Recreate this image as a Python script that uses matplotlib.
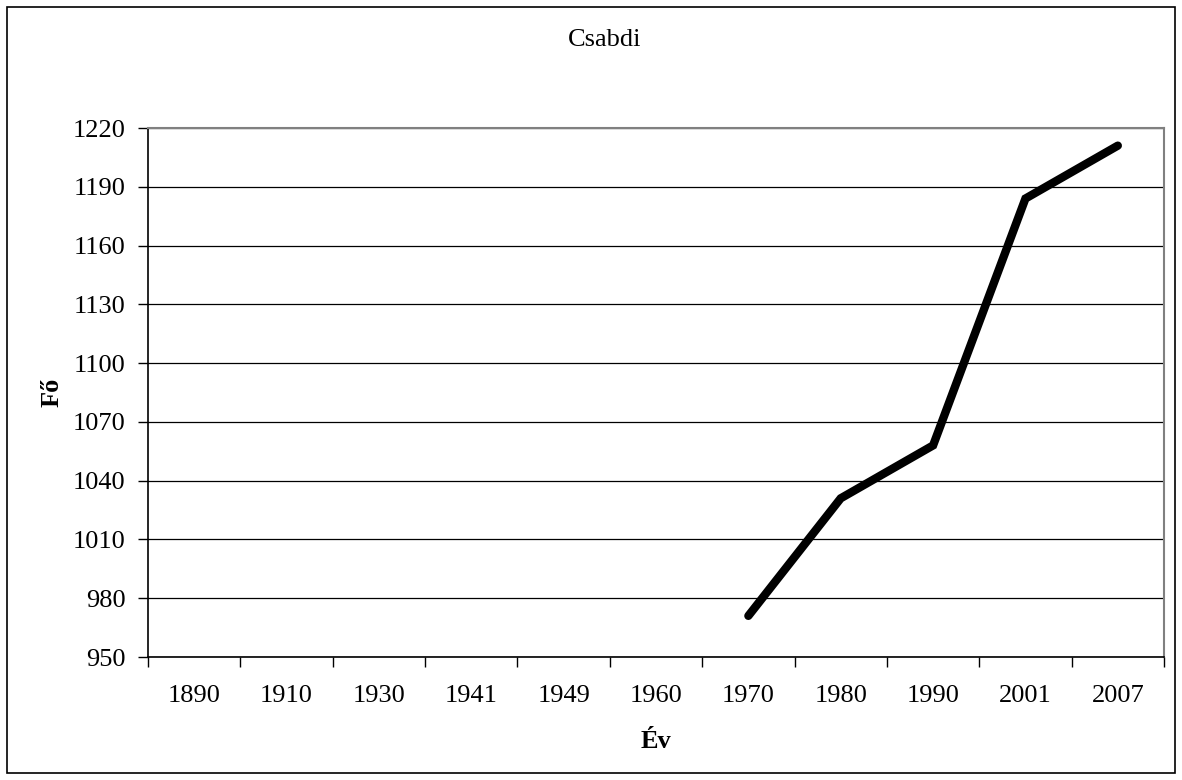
import numpy as np
import matplotlib
import matplotlib.pyplot as plt
from matplotlib.patches import Rectangle

matplotlib.use("Agg")
plt.rcParams["font.family"] = ["Liberation Serif", "DejaVu Serif"]

# Data
years = ["1890", "1910", "1930", "1941", "1949", "1960", "1970", "1980", "1990", "2001", "2007"]
population = [np.nan, np.nan, np.nan, np.nan, np.nan, np.nan, 971, 1031, 1058, 1184, 1211]
y_ticks = [950, 980, 1010, 1040, 1070, 1100, 1130, 1160, 1190, 1220]

fig = plt.figure(figsize=(11.82, 7.8), dpi=100)
ax = fig.add_axes([148 / 1182, 1 - 657 / 780, (1164 - 148) / 1182, (657 - 128) / 780])

x = np.arange(len(years))
ax.plot(x, population, color="black", linewidth=6, solid_capstyle="round",
        solid_joinstyle="miter", zorder=3)

ax.set_xlim(-0.5, len(years) - 0.5)
ax.set_ylim(y_ticks[0], y_ticks[-1])
ax.set_yticks(y_ticks)
ax.set_yticklabels([str(v) for v in y_ticks], fontsize=19)

# category boundaries as major ticks, labels centered via minor ticks
ax.set_xticks(np.arange(-0.5, len(years), 1.0))
ax.set_xticklabels([])
ax.set_xticks(x, minor=True)
ax.set_xticklabels(years, minor=True, fontsize=19)
ax.tick_params(axis="x", which="major", direction="out", length=7, width=1)
ax.tick_params(axis="x", which="minor", length=0, pad=20)
ax.tick_params(axis="y", direction="out", length=7, width=1, pad=9)

ax.grid(axis="y", color="black", linewidth=0.9)
ax.set_axisbelow(True)
for side in ("top", "right"):
    ax.spines[side].set_color("#808080")
    ax.spines[side].set_linewidth(1.5)
for side in ("left", "bottom"):
    ax.spines[side].set_color("black")
    ax.spines[side].set_linewidth(1.2)

ax.set_xlabel("Év", fontsize=19, fontweight="bold", labelpad=17)
ax.set_ylabel("Fő", fontsize=19, fontweight="bold", labelpad=7)
fig.text(605 / 1182, 1 - 40 / 780, "Csabdi", fontsize=19, ha="center", va="center")

fig.patches.append(Rectangle((7 / 1182, 7 / 780), 1168 / 1182, 766 / 780,
                             transform=fig.transFigure, fill=False,
                             edgecolor="black", linewidth=1.2))

fig.savefig("out.png", dpi=100)
